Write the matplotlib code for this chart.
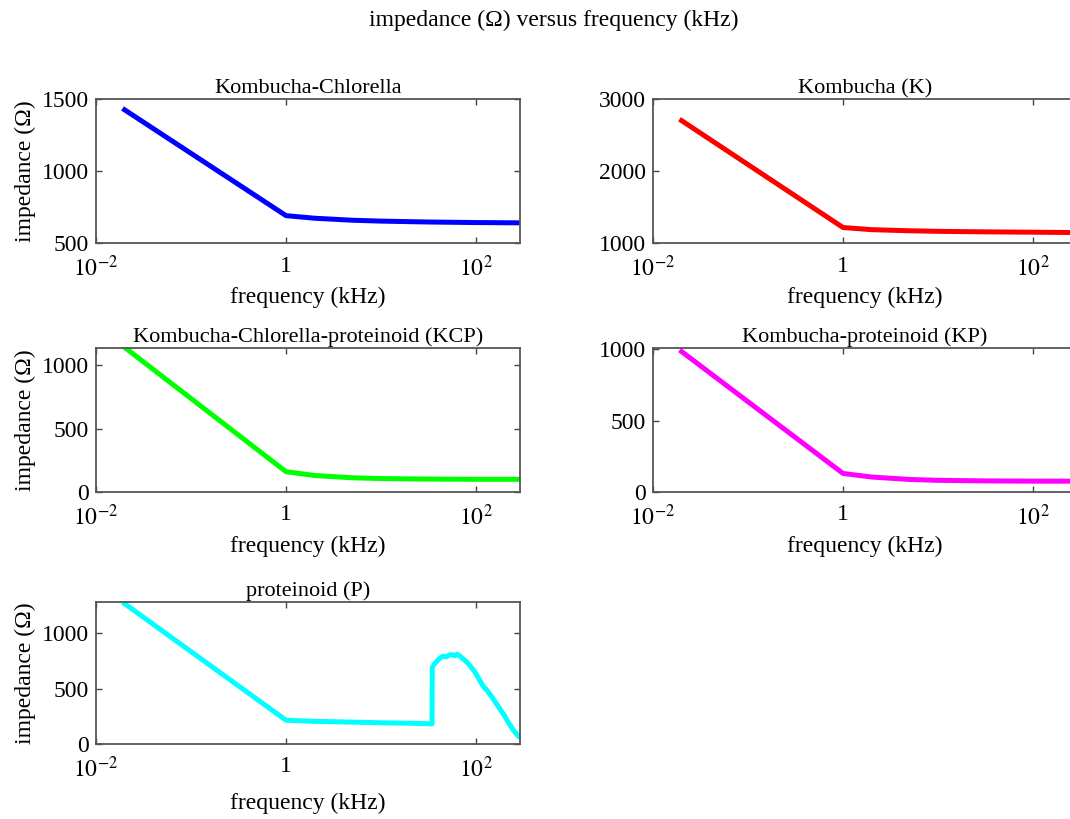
import matplotlib
matplotlib.use("Agg")
import matplotlib.pyplot as plt

plt.rcParams["font.family"] = ["Liberation Serif", "DejaVu Serif"]
plt.rcParams["mathtext.fontset"] = "stix"

# === data (frequency in kHz, impedance in ohm) ===
freq = [0.02, 1, 2, 5, 10, 30, 100, 290]
z_kc = [1425, 690, 672, 658, 652, 646, 642, 640]
z_k = [2700, 1215, 1185, 1170, 1162, 1155, 1150, 1145]
z_kcp = [1140, 160, 130, 112, 106, 102, 100, 100]
z_kp = [985, 130, 105, 88, 82, 78, 76, 76]

freq_p = [0.02, 1, 2, 5, 10, 20, 34.4, 34.6, 36, 38.8, 41, 45, 48, 52, 55.9,
          60, 63, 67.9, 73, 80.4, 88, 97.5, 107, 118.5, 132, 147, 162, 179,
          198, 217, 245, 277, 290]
z_p = [1270, 215, 205, 198, 192, 188, 182, 690, 720, 750, 772, 795, 788, 805,
       810, 798, 812, 795, 770, 740, 700, 650, 590, 525, 480, 425, 370, 315,
       260, 200, 130, 72, 60]

panels = [
    ("Kombucha-Chlorella", freq, z_kc, "#0000ff", (500, 1500), [500, 1000, 1500]),
    ("Kombucha (K)", freq, z_k, "#ff0000", (1000, 3000), [1000, 2000, 3000]),
    ("Kombucha-Chlorella-proteinoid (KCP)", freq, z_kcp, "#00ff00", (0, 1135), [0, 500, 1000]),
    ("Kombucha-proteinoid (KP)", freq, z_kp, "#ff00ff", (0, 1010), [0, 500, 1000]),
    ("proteinoid (P)", freq_p, z_p, "#00ffff", (0, 1285), [0, 500, 1000]),
]

W, H = 1070, 819
# axes boxes in pixels: left, top, right, bottom
boxes = [
    (96, 99, 520, 243),
    (653, 99, 1077, 243),
    (96, 348, 520, 492),
    (653, 348, 1077, 492),
    (96, 602, 520, 744),
]

fig = plt.figure(figsize=(W / 100, H / 100), dpi=100)
fig.text(554 / W, 1 - 20 / H, "impedance (\u03a9) versus frequency (kHz)",
         ha="center", va="center", fontsize=17)

for i, (title, x, y, color, ylim, yticks) in enumerate(panels):
    l, t, r, b = boxes[i]
    ax = fig.add_axes([l / W, 1 - b / H, (r - l) / W, (b - t) / H])
    ax.plot(x, y, color=color, linewidth=3.6, solid_joinstyle="round")
    ax.set_xscale("log")
    ax.set_xlim(0.01, 290)
    ax.set_ylim(*ylim)
    ax.set_xticks([0.01, 1, 100])
    ax.set_xticklabels([r"$10^{-2}$", "1", r"$10^{2}$"])
    ax.minorticks_off()
    ax.set_yticks(yticks)
    ax.tick_params(direction="in", top=True, right=True, length=4,
                   width=1.0, color="#444444", labelsize=17)
    ax.tick_params(axis="x", pad=9)
    ax.tick_params(axis="y", pad=5)
    for s in ax.spines.values():
        s.set_color("#555555")
        s.set_linewidth(1.3)
    ax.set_title(title, fontsize=16, pad=4)
    ax.set_xlabel("frequency (kHz)", fontsize=17, labelpad=8 if i == 4 else 4)
    if i % 2 == 0:
        ax.set_ylabel("impedance (\u03a9)", fontsize=17, labelpad=4)

fig.savefig("out.png", dpi=100)
